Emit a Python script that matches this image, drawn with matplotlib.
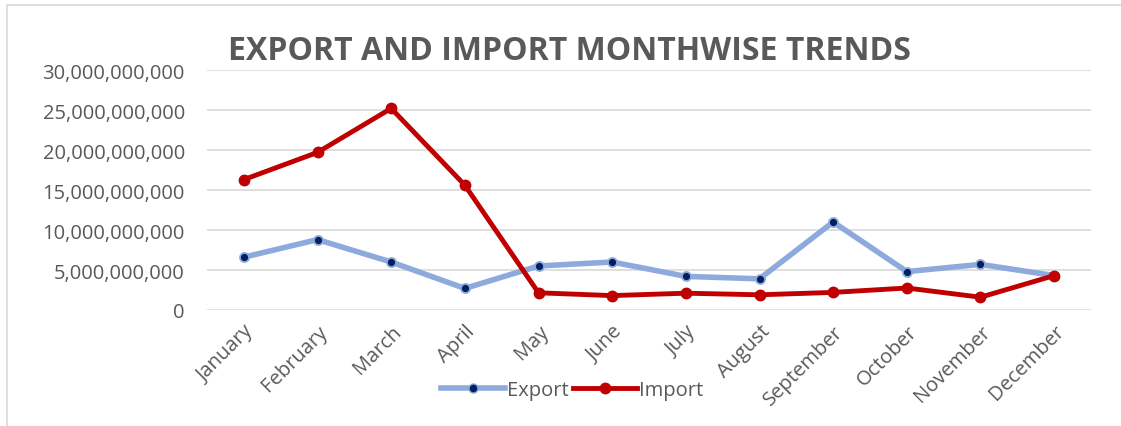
import matplotlib.pyplot as plt
from matplotlib.ticker import FuncFormatter
from matplotlib.lines import Line2D

months = ["January", "February", "March", "April", "May", "June", "July",
          "August", "September", "October", "November", "December"]
export_vals = [6.6e9, 8.8e9, 6.0e9, 2.7e9, 5.5e9, 6.0e9, 4.2e9, 3.9e9, 11.0e9, 4.8e9, 5.7e9, 4.3e9]
import_vals = [16.3e9, 19.7e9, 25.2e9, 15.6e9, 2.15e9, 1.8e9, 2.1e9, 1.9e9, 2.2e9, 2.75e9, 1.6e9, 4.3e9]
y_ticks = [0, 5e9, 10e9, 15e9, 20e9, 25e9, 30e9]

plt.rcParams['font.family'] = ['Open Sans', 'DejaVu Sans']
grey = '#595959'

fig = plt.figure(figsize=(11.21, 4.27), dpi=100)
ax = fig.add_axes([207 / 1121, 1 - 311 / 427, 884 / 1121, 240 / 427])

x = list(range(len(months)))
ax.plot(x, export_vals, color='#8EA9DB', lw=4.0, marker='o', ms=6.5,
        mfc='#002060', mec='#8EA9DB', mew=1.3, solid_capstyle='round', zorder=3)
ax.plot(x, import_vals, color='#C00000', lw=3.5, marker='o', ms=7.5,
        mfc='#C00000', mec='#C00000', solid_capstyle='round', zorder=4)

ax.set_xlim(-0.5, len(months) - 0.5)
ax.set_ylim(0, 30e9)
ax.set_yticks(y_ticks)
ax.yaxis.set_major_formatter(FuncFormatter(lambda v, p: f"{int(v):,}"))
ax.grid(axis='y', color='#D9D9D9', lw=1.2)
ax.set_axisbelow(True)
for s in ax.spines.values():
    s.set_visible(False)
ax.tick_params(axis='both', length=0, colors=grey, labelsize=14.5)
ax.tick_params(axis='y', pad=16)
ax.set_xticks(x)
ax.set_xticklabels(months, rotation=45, ha='right', va='top', rotation_mode='anchor')
ax.tick_params(axis='x', pad=8)

fig.text(569 / 1121, 1 - 51 / 427, "EXPORT AND IMPORT MONTHWISE TRENDS", ha='center', va='center',
         fontsize=23, fontweight='bold', color=grey)

handles = [
    Line2D([], [], color='#8EA9DB', lw=4.0, marker='o', ms=6.5, mfc='#002060', mec='#8EA9DB'),
    Line2D([], [], color='#C00000', lw=3.5, marker='o', ms=7.5, mfc='#C00000', mec='#C00000'),
]
fig.legend(handles, ["Export", "Import"], loc='center', bbox_to_anchor=(572 / 1121, 1 - 391 / 427),
           ncol=2, frameon=False, fontsize=14.5, labelcolor=grey, handlelength=3.2,
           handletextpad=0.1, columnspacing=0.2)

# chart border
fig.add_artist(Line2D([7 / 1121, 7 / 1121], [0, 1 - 6 / 427], color='#D9D9D9', lw=1.2))
fig.add_artist(Line2D([7 / 1121, 1], [1 - 6 / 427, 1 - 6 / 427], color='#D9D9D9', lw=1.2))

fig.savefig('out.png', dpi=100)
